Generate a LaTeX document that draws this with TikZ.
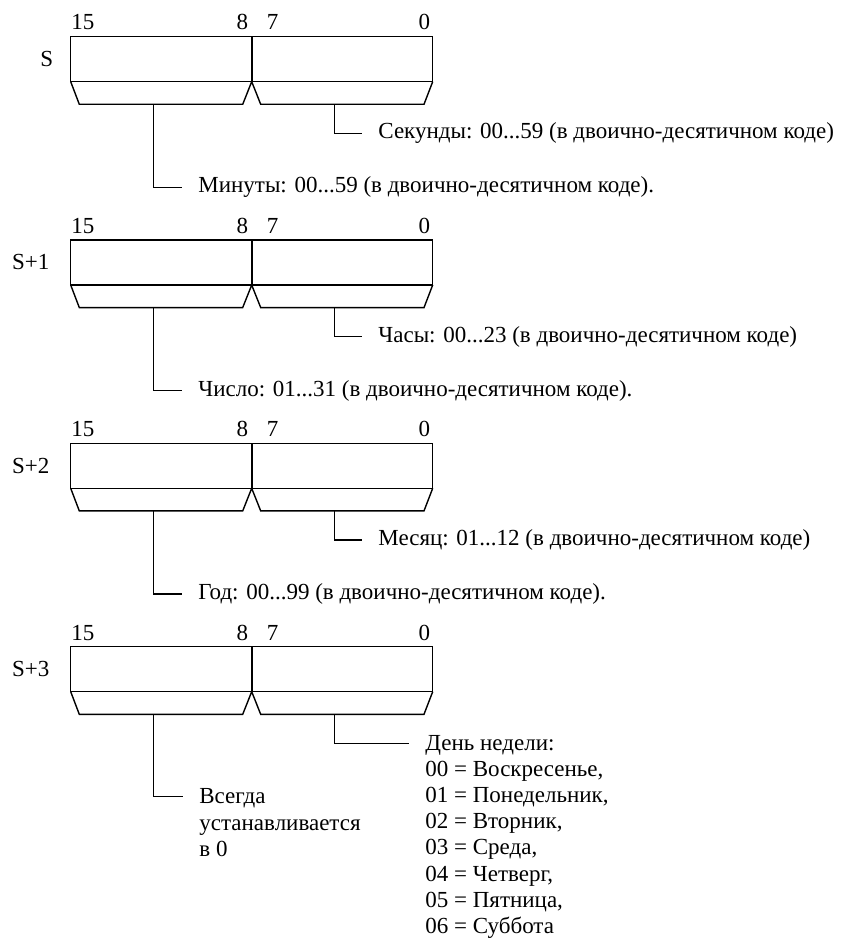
\documentclass[tikz,border=0pt]{standalone}
\usepackage{fontspec}
\setmainfont{Liberation Serif}
\usetikzlibrary{positioning}

\newcommand{\listfont}{\fontsize{11.5}{13.05}\selectfont}

\tikzset{
  wire/.style={line width=0.7pt},
  divider/.style={line width=1pt},
  bitnum/.style={inner sep=0pt},
  wordname/.style={anchor=base west, inner sep=0pt},
  note/.style={anchor=west, inner xsep=8pt, inner ysep=0pt},
  notelist/.style={anchor=base west, align=left, inner xsep=8pt, inner ysep=0pt,
    font=\listfont},
}

\begin{document}
\begin{tikzpicture}[x=0.5pt, y=-0.5pt, font=\fontsize{11.5}{13.05}\selectfont]
\useasboundingbox (0,0) rectangle (852,940);

% Слово S
\begin{scope}[shift={(0,36.7)}]
  \node[wordname] (w0) at (40,30) {S};
  \node[bitnum, anchor=base west] (w0b15) at (71,-6.7) {15};
  \node[bitnum, anchor=base east] (w0b8) at (248.5,-6.7) {8};
  \node[bitnum, anchor=base west] (w0b7) at (266.5,-6.7) {7};
  \node[bitnum, anchor=base east] (w0b0) at (430.5,-6.7) {0};
  \draw[wire] (70.7,0) rectangle (432.7,45);
  \draw[divider] (251.7,0) -- (251.7,45);
  \draw[wire] (70.7,45) -- (79.3,67.6) -- (242.7,67.6) -- (251.7,45)
    -- (260.7,67.6) -- (424,67.6) -- (432.7,45);
  \coordinate (w0hi) at (153.7,67.6);
  \coordinate (w0lo) at (334.3,67.6);
  \node[note] (sec) at (362,96.6) {Секунды: 00...59 (в двоично-десятичном коде)};
  \node[note] (min) at (182,150.6) {Минуты: 00...59 (в двоично-десятичном коде).};
  \draw[wire] (w0lo) |- (sec.west);
  \draw[wire] (w0hi) |- (min.west);
\end{scope}

% Слово S+1
\begin{scope}[shift={(0,240)}]
  \node[wordname] (w1) at (11.7,30) {S+1};
  \node[bitnum, anchor=base west] (w1b15) at (71,-6.7) {15};
  \node[bitnum, anchor=base east] (w1b8) at (248.5,-6.7) {8};
  \node[bitnum, anchor=base west] (w1b7) at (266.5,-6.7) {7};
  \node[bitnum, anchor=base east] (w1b0) at (430.5,-6.7) {0};
  \draw[wire] (70.7,0) rectangle (432.7,45);
  \draw[divider] (251.7,0) -- (251.7,45);
  \draw[wire] (70.7,45) -- (79.3,67.6) -- (242.7,67.6) -- (251.7,45)
    -- (260.7,67.6) -- (424,67.6) -- (432.7,45);
  \coordinate (w1hi) at (153.7,67.6);
  \coordinate (w1lo) at (334.3,67.6);
  \node[note] (hour) at (362,96.6) {Часы: 00...23 (в двоично-десятичном коде)};
  \node[note] (day) at (182,150.6) {Число: 01...31 (в двоично-десятичном коде).};
  \draw[wire] (w1lo) |- (hour.west);
  \draw[wire] (w1hi) |- (day.west);
\end{scope}

% Слово S+2
\begin{scope}[shift={(0,443.3)}]
  \node[wordname] (w2) at (11.7,30) {S+2};
  \node[bitnum, anchor=base west] (w2b15) at (71,-6.7) {15};
  \node[bitnum, anchor=base east] (w2b8) at (248.5,-6.7) {8};
  \node[bitnum, anchor=base west] (w2b7) at (266.5,-6.7) {7};
  \node[bitnum, anchor=base east] (w2b0) at (430.5,-6.7) {0};
  \draw[wire] (70.7,0) rectangle (432.7,45);
  \draw[divider] (251.7,0) -- (251.7,45);
  \draw[wire] (70.7,45) -- (79.3,67.6) -- (242.7,67.6) -- (251.7,45)
    -- (260.7,67.6) -- (424,67.6) -- (432.7,45);
  \coordinate (w2hi) at (153.7,67.6);
  \coordinate (w2lo) at (334.3,67.6);
  \node[note] (month) at (362,96.6) {Месяц: 01...12 (в двоично-десятичном коде)};
  \node[note] (year) at (182,150.6) {Год: 00...99 (в двоично-десятичном коде).};
  \draw[wire] (w2lo) |- (month.west);
  \draw[wire] (w2hi) |- (year.west);
\end{scope}

% Слово S+3
\begin{scope}[shift={(0,646.7)}]
  \node[wordname] (w3) at (11.7,30) {S+3};
  \node[bitnum, anchor=base west] (w3b15) at (71,-6.7) {15};
  \node[bitnum, anchor=base east] (w3b8) at (248.5,-6.7) {8};
  \node[bitnum, anchor=base west] (w3b7) at (266.5,-6.7) {7};
  \node[bitnum, anchor=base east] (w3b0) at (430.5,-6.7) {0};
  \draw[wire] (70.7,0) rectangle (432.7,45);
  \draw[divider] (251.7,0) -- (251.7,45);
  \draw[wire] (70.7,45) -- (79.3,67.6) -- (242.7,67.6) -- (251.7,45)
    -- (260.7,67.6) -- (424,67.6) -- (432.7,45);
  \coordinate (w3hi) at (153.7,67.6);
  \coordinate (w3lo) at (334.3,67.6);
  \coordinate (w3loend) at (409,96.6);
  \coordinate (w3hiend) at (183,150);
  % базовая линия узла = последняя строка
  \node[notelist] (weekday) at ([yshift=-94.95pt]w3loend)
    {День недели:\\00 = Воскресенье,\\01 = Понедельник,\\02 = Вторник,\\03 = Среда,\\04 = Четверг,\\05 = Пятница,\\06 = Суббота};
  \node[notelist] (zero) at ([yshift=-29.7pt]w3hiend)
    {Всегда\\устанавливается\\в 0};
  \draw[wire] (w3lo) |- (w3loend);
  \draw[wire] (w3hi) |- (w3hiend);
\end{scope}
\end{tikzpicture}
\end{document}
